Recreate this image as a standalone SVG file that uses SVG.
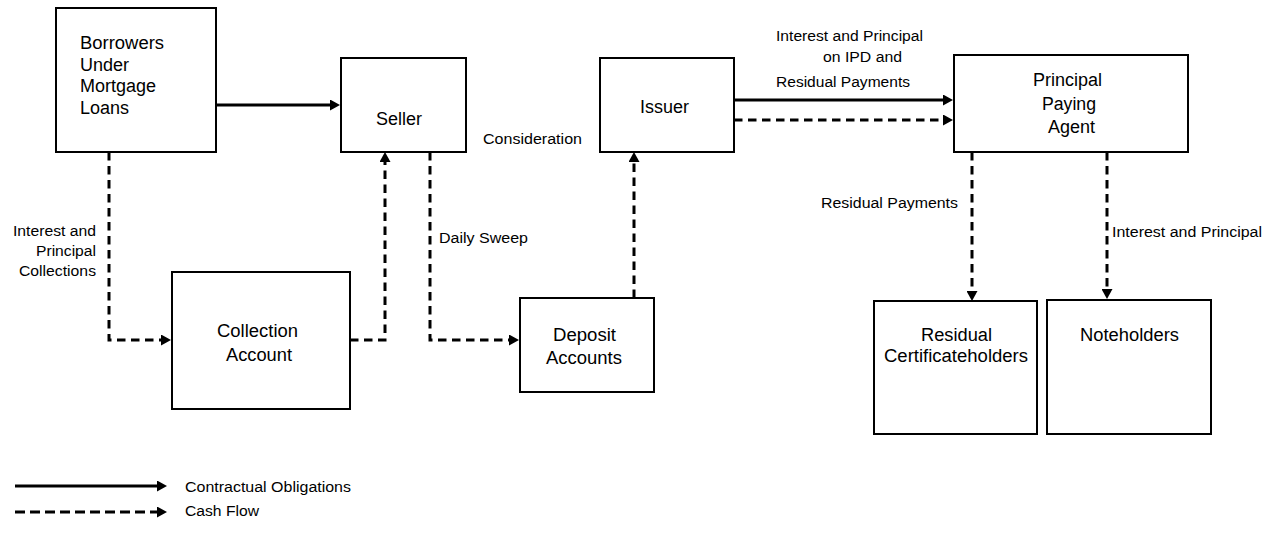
<svg xmlns="http://www.w3.org/2000/svg" width="1282" height="533" viewBox="0 0 1282 533">
<style>
.box{fill:#fff;stroke:#000;stroke-width:2}
.nt{font-family:"Liberation Sans",Arial,sans-serif;font-size:18px;fill:#000}
.lb{font-family:"Liberation Sans",Arial,sans-serif;font-size:15.5px;fill:#000}
.solid{fill:none;stroke:#000;stroke-width:3;marker-end:url(#ah)}
.dash{fill:none;stroke:#000;stroke-width:3;stroke-dasharray:8.5 5.5;marker-end:url(#ah)}
.ldash{fill:none;stroke:#000;stroke-width:3;stroke-dasharray:10 5;marker-end:url(#ah)}
</style>
<defs>
<marker id="ah" markerUnits="userSpaceOnUse" markerWidth="11" markerHeight="11" refX="6" refY="5.5" orient="auto">
<path d="M0,0 L10,5.5 L0,11 z" fill="#000"/>
</marker>
</defs>
<g id="connectors">
<path class="solid" d="M216,105 H336"/>
<path class="dash" d="M109,152 V340 H167"/>
<path class="dash" d="M350,340 H385 V156"/>
<path class="dash" d="M430,152 V340 H515"/>
<path class="dash" d="M634,298 V156"/>
<path class="solid" d="M734,100 H949"/>
<path class="dash" d="M734,120 H949"/>
<path class="dash" d="M972,152 V297"/>
<path class="dash" d="M1107,152 V295"/>
</g>
<g id="borrowers">
<rect class="box" x="56" y="8" width="160" height="144"/>
<text class="nt" x="80" y="49" textLength="84" lengthAdjust="spacingAndGlyphs">Borrowers</text>
<text class="nt" x="80" y="71">Under</text>
<text class="nt" x="80" y="92">Mortgage</text>
<text class="nt" x="80" y="114">Loans</text>
</g>
<g id="seller">
<rect class="box" x="341" y="58" width="125" height="94"/>
<text class="nt" x="376" y="125" textLength="46" lengthAdjust="spacingAndGlyphs">Seller</text>
</g>
<g id="issuer">
<rect class="box" x="600" y="58" width="134" height="94"/>
<text class="nt" x="640" y="113" textLength="49" lengthAdjust="spacingAndGlyphs">Issuer</text>
</g>
<g id="ppa">
<rect class="box" x="954" y="55" width="234" height="97"/>
<text class="nt" x="1033" y="86" textLength="69" lengthAdjust="spacingAndGlyphs">Principal</text>
<text class="nt" x="1042" y="110" textLength="54" lengthAdjust="spacingAndGlyphs">Paying</text>
<text class="nt" x="1048" y="133" textLength="47" lengthAdjust="spacingAndGlyphs">Agent</text>
</g>
<g id="collection">
<rect class="box" x="172" y="272" width="178" height="137"/>
<text class="nt" x="217" y="337" textLength="81" lengthAdjust="spacingAndGlyphs">Collection</text>
<text class="nt" x="226" y="361" textLength="66" lengthAdjust="spacingAndGlyphs">Account</text>
</g>
<g id="deposit">
<rect class="box" x="520" y="298" width="134" height="94"/>
<text class="nt" x="553" y="341" textLength="63" lengthAdjust="spacingAndGlyphs">Deposit</text>
<text class="nt" x="546" y="364" textLength="76" lengthAdjust="spacingAndGlyphs">Accounts</text>
</g>
<g id="residual">
<rect class="box" x="874" y="301" width="163" height="133"/>
<text class="nt" x="921" y="341" textLength="71" lengthAdjust="spacingAndGlyphs">Residual</text>
<text class="nt" x="884" y="362" textLength="144" lengthAdjust="spacingAndGlyphs">Certificateholders</text>
</g>
<g id="noteholders">
<rect class="box" x="1047" y="300" width="164" height="134"/>
<text class="nt" x="1080" y="341" textLength="99" lengthAdjust="spacingAndGlyphs">Noteholders</text>
</g>
<g id="labels">
<text class="lb" x="13" y="236" textLength="83" lengthAdjust="spacingAndGlyphs">Interest and</text>
<text class="lb" x="36" y="256" textLength="60" lengthAdjust="spacingAndGlyphs">Principal</text>
<text class="lb" x="19" y="276" textLength="77" lengthAdjust="spacingAndGlyphs">Collections</text>
<text class="lb" x="439" y="243" textLength="89" lengthAdjust="spacingAndGlyphs">Daily Sweep</text>
<text class="lb" x="483" y="144" textLength="99" lengthAdjust="spacingAndGlyphs">Consideration</text>
<text class="lb" x="776" y="41" textLength="147" lengthAdjust="spacingAndGlyphs">Interest and Principal</text>
<text class="lb" x="823" y="62" textLength="79" lengthAdjust="spacingAndGlyphs">on IPD and</text>
<text class="lb" x="776" y="87" textLength="134" lengthAdjust="spacingAndGlyphs">Residual Payments</text>
<text class="lb" x="821" y="208" textLength="137" lengthAdjust="spacingAndGlyphs">Residual Payments</text>
<text class="lb" x="1112" y="237" textLength="150" lengthAdjust="spacingAndGlyphs">Interest and Principal</text>
</g>
<g id="legend">
<path class="solid" d="M15,486 H163"/>
<path class="ldash" d="M15,512 H163"/>
<text class="lb" x="185" y="492" textLength="166" lengthAdjust="spacingAndGlyphs">Contractual Obligations</text>
<text class="lb" x="185" y="516" textLength="74" lengthAdjust="spacingAndGlyphs">Cash Flow</text>
</g>
</svg>
